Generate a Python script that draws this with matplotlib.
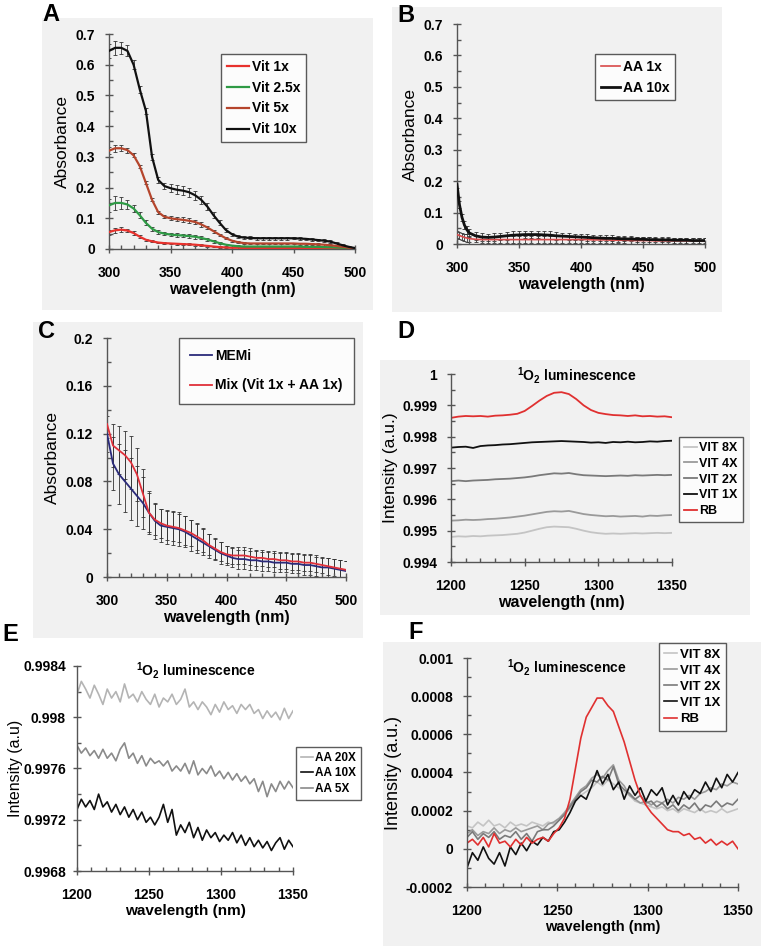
import numpy as np
import matplotlib
matplotlib.use("Agg")
import matplotlib.pyplot as plt
from matplotlib.patches import Rectangle
from matplotlib.ticker import MultipleLocator, FuncFormatter

# ---------------- data ----------------
# panel A: vitamin absorbance, 300..500 nm every 5 nm
wl_a = np.arange(300, 505, 5)
vit10 = [0.645, 0.655, 0.655, 0.645, 0.600, 0.520, 0.450, 0.300, 0.225, 0.205,
         0.198, 0.193, 0.190, 0.185, 0.175, 0.160, 0.138, 0.110, 0.085, 0.062,
         0.048, 0.040, 0.037, 0.036, 0.035, 0.035, 0.035, 0.035, 0.035, 0.035,
         0.035, 0.034, 0.033, 0.031, 0.029, 0.027, 0.024, 0.018, 0.012, 0.007, 0.003]
vit5 = [0.320, 0.328, 0.328, 0.322, 0.305, 0.270, 0.215, 0.160, 0.120, 0.105,
        0.100, 0.097, 0.095, 0.092, 0.088, 0.080, 0.070, 0.058, 0.046, 0.035,
        0.027, 0.022, 0.019, 0.018, 0.018, 0.018, 0.018, 0.018, 0.018, 0.018,
        0.018, 0.017, 0.017, 0.016, 0.015, 0.014, 0.012, 0.010, 0.007, 0.004, 0.002]
vit25 = [0.142, 0.150, 0.150, 0.145, 0.132, 0.110, 0.085, 0.066, 0.055, 0.050,
         0.047, 0.045, 0.044, 0.042, 0.040, 0.036, 0.031, 0.025, 0.019, 0.014,
         0.011, 0.009, 0.008, 0.008, 0.008, 0.008, 0.008, 0.008, 0.008, 0.008,
         0.008, 0.008, 0.007, 0.007, 0.007, 0.006, 0.006, 0.005, 0.004, 0.003, 0.002]
vit1 = [0.055, 0.061, 0.063, 0.060, 0.052, 0.040, 0.030, 0.025, 0.021, 0.019,
        0.018, 0.017, 0.016, 0.015, 0.014, 0.012, 0.010, 0.008, 0.006, 0.005,
        0.004, 0.004, 0.003, 0.003, 0.003, 0.003, 0.003, 0.003, 0.003, 0.003,
        0.003, 0.003, 0.003, 0.003, 0.003, 0.002, 0.002, 0.002, 0.002, 0.002, 0.001]
vit10_err = [0.022, 0.022, 0.020, 0.018, 0.015, 0.012, 0.010, 0.010, 0.010, 0.010,
             0.012, 0.014, 0.015, 0.015, 0.015, 0.014, 0.012, 0.010, 0.008, 0.006] + [0.005] * 10 + [0.004] * 10 + [0.003]
vit5_err = [0.012, 0.012, 0.010, 0.008, 0.006, 0.005, 0.005, 0.005, 0.005, 0.005,
            0.006, 0.007, 0.008, 0.008, 0.008, 0.007, 0.006, 0.005, 0.004, 0.003] + [0.003] * 20 + [0.002]
vit25_err = [0.022, 0.022, 0.020, 0.016, 0.012, 0.010, 0.008, 0.007, 0.006, 0.006,
             0.006, 0.006, 0.006, 0.006, 0.006, 0.005, 0.005, 0.004, 0.004, 0.003] + [0.003] * 20 + [0.002]
vit1_err = [0.008, 0.008, 0.007, 0.006, 0.005, 0.004, 0.004, 0.003, 0.003, 0.003] + [0.003] * 30 + [0.002]

# panel B: amino acids absorbance
wl_b = np.r_[300, 302, 304, 306, 308, np.arange(310, 505, 5)]
aa10 = [0.190, 0.125, 0.085, 0.060, 0.045,
        0.035, 0.026, 0.022, 0.021, 0.022, 0.024, 0.026, 0.028, 0.029, 0.030,
        0.030, 0.030, 0.029, 0.028, 0.026, 0.025, 0.024, 0.023, 0.022, 0.021,
        0.020, 0.019, 0.018, 0.018, 0.017, 0.016, 0.016, 0.015, 0.015, 0.014,
        0.014, 0.013, 0.013, 0.012, 0.012, 0.012, 0.011, 0.011, 0.011]
aa1 = [0.030, 0.027, 0.024, 0.021, 0.019,
       0.017, 0.015, 0.014, 0.014, 0.014, 0.014, 0.014, 0.014, 0.014, 0.014,
       0.014, 0.014, 0.014, 0.014, 0.014, 0.014, 0.014, 0.014, 0.014, 0.014,
       0.013, 0.013, 0.013, 0.012, 0.012, 0.012, 0.011, 0.011, 0.011, 0.011,
       0.010, 0.010, 0.010, 0.010, 0.010, 0.010, 0.010, 0.010, 0.010]
aa10_err = [0.012] * 20 + [0.010] * 10 + [0.008] * 14
aa1_err = [0.012] * 5 + [0.010] * 39

# panel C: MEMi vs mix, 300..500 every 5 nm
wl_c = np.arange(300, 505, 5)
memi = [0.120, 0.095, 0.086, 0.080, 0.074, 0.068, 0.062, 0.054, 0.047, 0.043,
        0.042, 0.041, 0.040, 0.038, 0.035, 0.032, 0.029, 0.026, 0.023, 0.020,
        0.018, 0.016, 0.015, 0.015, 0.014, 0.014, 0.013, 0.013, 0.012, 0.012,
        0.012, 0.011, 0.011, 0.010, 0.010, 0.009, 0.008, 0.008, 0.007, 0.006, 0.005]
mix = [0.128, 0.110, 0.106, 0.102, 0.096, 0.086, 0.070, 0.054, 0.048, 0.045,
       0.043, 0.042, 0.041, 0.039, 0.037, 0.034, 0.031, 0.027, 0.024, 0.021,
       0.019, 0.018, 0.018, 0.018, 0.017, 0.016, 0.016, 0.015, 0.015, 0.014,
       0.014, 0.013, 0.013, 0.012, 0.012, 0.011, 0.010, 0.009, 0.008, 0.007, 0.006]
memi_err = [0.015, 0.022, 0.025, 0.026, 0.026, 0.025, 0.022, 0.018, 0.015, 0.014,
            0.014, 0.014, 0.014, 0.013, 0.013, 0.012, 0.011, 0.010, 0.009, 0.009] + [0.008] * 21
mix_err = [0.012, 0.018, 0.020, 0.020, 0.022, 0.022, 0.020, 0.016, 0.013, 0.012,
           0.012, 0.012, 0.012, 0.012, 0.011, 0.011, 0.010, 0.009, 0.009, 0.008] + [0.007] * 21

# panel D: 1O2 luminescence, vitamins + RB, 1200..1350 every 5 nm
wl_d = np.arange(1200, 1355, 5)
d_rb = [0.99860, 0.99864, 0.99866, 0.99865, 0.99866, 0.99864, 0.99867, 0.99868, 0.99870, 0.99873,
        0.99882, 0.99898, 0.99915, 0.99930, 0.99940, 0.99942, 0.99936, 0.99920, 0.99900, 0.99885,
        0.99876, 0.99872, 0.99869, 0.99868, 0.99866, 0.99868, 0.99865, 0.99866, 0.99864, 0.99865, 0.99862]
d_vit1 = [0.99765, 0.99767, 0.99768, 0.99764, 0.99770, 0.99772, 0.99773, 0.99775, 0.99776, 0.99778,
          0.99780, 0.99782, 0.99783, 0.99784, 0.99785, 0.99786, 0.99785, 0.99784, 0.99783, 0.99781,
          0.99782, 0.99780, 0.99783, 0.99782, 0.99784, 0.99782, 0.99783, 0.99785, 0.99784, 0.99786, 0.99787]
d_vit2 = [0.99658, 0.99660, 0.99658, 0.99660, 0.99661, 0.99662, 0.99664, 0.99665, 0.99666, 0.99668,
          0.99670, 0.99673, 0.99677, 0.99680, 0.99683, 0.99682, 0.99684, 0.99680, 0.99677, 0.99676,
          0.99675, 0.99674, 0.99675, 0.99676, 0.99675, 0.99677, 0.99676, 0.99677, 0.99678, 0.99677, 0.99678]
d_vit4 = [0.99532, 0.99533, 0.99535, 0.99534, 0.99535, 0.99537, 0.99538, 0.99540, 0.99542, 0.99545,
          0.99548, 0.99552, 0.99556, 0.99560, 0.99562, 0.99561, 0.99563, 0.99558, 0.99553, 0.99550,
          0.99548, 0.99546, 0.99547, 0.99545, 0.99546, 0.99547, 0.99545, 0.99548, 0.99547, 0.99549, 0.99550]
d_vit8 = [0.99480, 0.99482, 0.99481, 0.99483, 0.99482, 0.99484, 0.99485, 0.99486, 0.99488, 0.99490,
          0.99494, 0.99500, 0.99506, 0.99511, 0.99513, 0.99512, 0.99511, 0.99506, 0.99500, 0.99495,
          0.99492, 0.99490, 0.99491, 0.99490, 0.99491, 0.99492, 0.99491, 0.99492, 0.99493, 0.99492, 0.99493]

# panel E: 1O2 luminescence, amino acids, 1200..1350 every 3 nm
wl_e = np.arange(1200, 1353, 3)
e_aa20 = [0.99818, 0.99828, 0.99822, 0.99815, 0.99825, 0.99818, 0.99810, 0.99822, 0.99815, 0.99820,
          0.99812, 0.99826, 0.99815, 0.99818, 0.99812, 0.99820, 0.99814, 0.99810, 0.99818, 0.99808,
          0.99815, 0.99812, 0.99818, 0.99810, 0.99814, 0.99822, 0.99808, 0.99812, 0.99806, 0.99812,
          0.99808, 0.99802, 0.99810, 0.99804, 0.99812, 0.99806, 0.99809, 0.99803, 0.99810, 0.99806,
          0.99810, 0.99803, 0.99806, 0.99799, 0.99805, 0.99800, 0.99804, 0.99798, 0.99807, 0.99799, 0.99805]
e_aa5 = [0.99778, 0.99772, 0.99776, 0.99770, 0.99774, 0.99768, 0.99775, 0.99768, 0.99772, 0.99766,
         0.99775, 0.99780, 0.99768, 0.99772, 0.99764, 0.99770, 0.99762, 0.99768, 0.99764, 0.99766,
         0.99762, 0.99766, 0.99758, 0.99762, 0.99758, 0.99764, 0.99756, 0.99766, 0.99755, 0.99760,
         0.99756, 0.99762, 0.99754, 0.99758, 0.99752, 0.99757, 0.99751, 0.99756, 0.99750, 0.99754,
         0.99748, 0.99752, 0.99742, 0.99750, 0.99738, 0.99748, 0.99742, 0.99750, 0.99744, 0.99750, 0.99745]
e_aa10 = [0.99728, 0.99736, 0.99730, 0.99735, 0.99728, 0.99740, 0.99730, 0.99734, 0.99726, 0.99732,
          0.99724, 0.99730, 0.99722, 0.99728, 0.99720, 0.99726, 0.99718, 0.99722, 0.99716, 0.99722,
          0.99732, 0.99718, 0.99728, 0.99708, 0.99716, 0.99710, 0.99718, 0.99706, 0.99714, 0.99704,
          0.99712, 0.99706, 0.99710, 0.99703, 0.99708, 0.99704, 0.99710, 0.99702, 0.99708, 0.99700,
          0.99706, 0.99699, 0.99704, 0.99698, 0.99703, 0.99696, 0.99702, 0.99706, 0.99697, 0.99704, 0.99699]

# panel F: baseline-subtracted luminescence, in units of 1e-4 a.u., every 3 nm
wl_f = np.arange(1200, 1353, 3)
f_rb = [0.3, 0.5, 0.2, 0.6, 0.1, 0.8, 0.3, 0.4, 0.1, 0.5, 0.2, 0.6, 0.3, 0.5, 0.6, 0.4, 0.8,
        1.1, 1.6, 2.6, 4.2, 5.8, 6.9, 7.4, 7.9, 7.9, 7.5, 7.2, 6.4, 5.6, 4.6, 3.6, 2.8, 2.3,
        1.9, 1.6, 1.3, 1.0, 0.9, 0.9, 0.7, 0.8, 0.5, 0.6, 0.3, 0.5, 0.2, 0.4, 0.2, 0.4, 0.0]
f_vit1 = [-1.0, -0.2, -0.6, 0.1, -0.5, -0.8, -0.2, -0.9, 0.1, -0.3, 0.3, -0.1, 0.4, 0.2, 0.6, 0.4, 0.9,
          1.0, 1.4, 1.9, 2.5, 2.8, 2.6, 3.3, 4.1, 3.4, 3.9, 3.1, 3.5, 2.6, 3.3, 2.8, 3.2, 2.5,
          3.1, 2.8, 3.2, 2.3, 2.8, 2.3, 3.0, 2.6, 3.1, 2.9, 3.5, 3.0, 3.7, 3.2, 3.9, 3.5, 4.0]
f_vit2 = [0.6, 0.9, 0.5, 0.8, 0.6, 0.9, 0.5, 0.7, 0.6, 0.9, 0.5, 0.8, 0.4, 0.9, 1.0, 1.0, 1.2,
          1.5, 1.8, 2.2, 2.6, 3.0, 3.2, 3.6, 3.5, 3.8, 3.6, 4.3, 3.4, 3.1, 2.9, 2.6, 2.8, 2.4,
          2.5, 2.2, 2.4, 2.1, 2.3, 2.0, 2.3, 2.1, 2.4, 2.0, 2.3, 2.2, 2.5, 2.2, 2.4, 2.3, 2.6]
f_vit4 = [0.8, 1.0, 0.7, 0.9, 0.8, 1.1, 0.8, 1.0, 0.9, 1.1, 0.9, 1.0, 1.1, 1.2, 1.0, 1.3, 1.4,
          1.6, 1.9, 2.3, 2.7, 3.1, 3.3, 3.7, 3.9, 3.7, 4.1, 4.4, 3.6, 3.3, 2.8, 2.6, 2.4, 2.5,
          2.3, 2.5, 2.4, 2.6, 2.4, 2.7, 2.6, 2.8, 2.6, 2.9, 3.0, 3.2, 3.1, 3.4, 3.3, 3.5, 3.4]
f_vit8 = [1.2, 1.1, 1.4, 1.2, 1.5, 1.2, 1.3, 1.1, 1.4, 1.2, 1.3, 1.2, 1.4, 1.3, 1.2, 1.4, 1.3,
          1.5, 1.8, 2.1, 2.5, 2.8, 3.0, 3.2, 3.5, 3.3, 3.6, 3.4, 3.2, 3.0, 2.8, 2.5, 2.4, 2.3,
          2.2, 2.1, 2.2, 2.0, 2.1, 1.9, 2.1, 2.0, 1.9, 2.1, 1.9, 2.0, 1.9, 2.1, 1.9, 2.0, 2.1]
F_UNIT = 1e-4

# ---------------- layout ----------------
W, H = 761, 946
BG = "#f1f1f1"
SPINE = "#555555"

plt.rcParams["font.family"] = ["Liberation Sans", "DejaVu Sans"]
plt.rcParams["mathtext.fontset"] = "custom"
plt.rcParams["mathtext.rm"] = "Liberation Sans"
plt.rcParams["mathtext.bf"] = "Liberation Sans:bold"


def rect(l, t, r, b):
    return [l / W, 1 - b / H, (r - l) / W, (b - t) / H]


def add_bg(fig, l, t, r, b):
    fig.patches.append(Rectangle((l / W, 1 - b / H), (r - l) / W, (b - t) / H,
                                 transform=fig.transFigure, facecolor=BG,
                                 edgecolor="none", zorder=-10))


fmt = FuncFormatter(lambda v, p: "%g" % round(v, 8))


def style(ax, xlim, ylim, ymaj, ymin, xlab_size=11.5):
    ax.set_facecolor("none")
    ax.set_xlim(*xlim)
    ax.set_ylim(*ylim)
    for s in ["top", "right"]:
        ax.spines[s].set_visible(False)
    for s in ["left", "bottom"]:
        ax.spines[s].set_color(SPINE)
        ax.spines[s].set_linewidth(1.0)
    ax.xaxis.set_major_locator(MultipleLocator(50))
    ax.xaxis.set_minor_locator(MultipleLocator(10))
    ax.yaxis.set_major_locator(MultipleLocator(ymaj))
    ax.yaxis.set_minor_locator(MultipleLocator(ymin))
    ax.yaxis.set_major_formatter(fmt)
    ax.tick_params(which="major", direction="inout", length=6, width=1, color=SPINE,
                   labelsize=10)
    ax.tick_params(axis="x", which="major", pad=9)
    ax.tick_params(axis="y", which="major", pad=7)
    ax.tick_params(which="minor", direction="in", length=3, width=1, color=SPINE)
    for lab in ax.get_xticklabels() + ax.get_yticklabels():
        lab.set_fontweight("bold")
    ax.set_xlabel("wavelength (nm)", fontsize=xlab_size, fontweight="bold", labelpad=2)


def legend(ax, fig, l, t, size, **kw):
    leg = ax.legend(loc="upper left", bbox_to_anchor=(l / W, 1 - t / H),
                    bbox_transform=fig.transFigure, borderaxespad=0, fancybox=False,
                    prop={"size": size, "weight": "bold"}, handletextpad=0.2, **kw)
    leg.get_frame().set_edgecolor("#333333")
    leg.get_frame().set_linewidth(1.0)
    return leg


def title(ax, x, y):
    ax.text(x, y, r"$\mathbf{^{1}O_{2}}$ luminescence", transform=ax.transAxes,
            ha="center", va="center", fontsize=10, fontweight="bold")


fig = plt.figure(figsize=(W / 100, H / 100), dpi=100)
add_bg(fig, 42, 18, 373, 310)
add_bg(fig, 392, 7, 722, 312)
add_bg(fig, 33, 322, 363, 638)
add_bg(fig, 380, 360, 750, 615)
add_bg(fig, 383, 642, 761, 946)

# ---- A ----
axA = fig.add_axes(rect(109, 34, 355, 249))
eb = dict(fmt="none", ecolor="#333333", elinewidth=0.6, capsize=1.5, capthick=0.6, zorder=1)
for y, e in [(vit10, vit10_err), (vit5, vit5_err), (vit25, vit25_err), (vit1, vit1_err)]:
    axA.errorbar(wl_a, y, yerr=e, **eb)
axA.plot(wl_a, vit1, color="#e8322d", lw=1.6, label="Vit 1x", zorder=3)
axA.plot(wl_a, vit25, color="#2e9a45", lw=1.6, label="Vit 2.5x", zorder=3)
axA.plot(wl_a, vit5, color="#b5452c", lw=1.6, label="Vit 5x", zorder=3)
axA.plot(wl_a, vit10, color="#111111", lw=1.6, label="Vit 10x", zorder=3)
style(axA, (300, 500), (0, 0.7), 0.1, 0.05)
axA.set_ylabel("Absorbance", fontsize=12.5, labelpad=4)
legend(axA, fig, 221, 54, 10, handlelength=1.6)

# ---- B ----
axB = fig.add_axes(rect(457, 24, 705, 244))
axB.errorbar(wl_b, aa10, yerr=aa10_err, **eb)
axB.errorbar(wl_b, aa1, yerr=aa1_err, **eb)
axB.plot(wl_b, aa1, color="#d84a4a", lw=1.2, label="AA 1x", zorder=3)
axB.plot(wl_b, aa10, color="#111111", lw=2.0, label="AA 10x", zorder=3)
style(axB, (300, 500), (0, 0.7), 0.1, 0.05)
axB.set_ylabel("Absorbance", fontsize=12.5, labelpad=4)
legend(axB, fig, 595, 54, 10, handlelength=1.4)

# ---- C ----
axC = fig.add_axes(rect(107, 338, 346, 577))
axC.errorbar(wl_c, memi, yerr=memi_err, **eb)
axC.errorbar(wl_c, mix, yerr=mix_err, **eb)
axC.plot(wl_c, memi, color="#2a2a7a", lw=1.3, label="MEMi", zorder=3)
axC.plot(wl_c, mix, color="#e0303a", lw=1.3, label="Mix (Vit 1x + AA 1x)", zorder=3)
style(axC, (300, 500), (0, 0.2), 0.04, 0.02)
axC.set_ylabel("Absorbance", fontsize=12.5, labelpad=4)
legend(axC, fig, 179, 338, 10, handlelength=1.6, labelspacing=1.1, borderpad=0.8)

# ---- D ----
axD = fig.add_axes(rect(451, 374, 672, 562))
axD.plot(wl_d, d_vit8, color="#c4c4c4", lw=1.3, label="VIT 8X")
axD.plot(wl_d, d_vit4, color="#9a9a9a", lw=1.3, label="VIT 4X")
axD.plot(wl_d, d_vit2, color="#7a7a7a", lw=1.3, label="VIT 2X")
axD.plot(wl_d, d_vit1, color="#111111", lw=1.3, label="VIT 1X")
axD.plot(wl_d, d_rb, color="#e03030", lw=1.3, label="RB")
style(axD, (1200, 1350), (0.994, 1.0), 0.001, 0.0005)
axD.set_ylabel("Intensity (a.u.)", fontsize=12.5, labelpad=3)
title(axD, 0.57, 0.99)
legend(axD, fig, 679, 437, 9, handlelength=1.0, labelspacing=0.3)

# ---- E ----
axE = fig.add_axes(rect(77, 666, 293, 871))
axE.plot(wl_e, e_aa20, color="#b4b4b4", lw=1.2, label="AA 20X")
axE.plot(wl_e, e_aa10, color="#111111", lw=1.2, label="AA 10X")
axE.plot(wl_e, e_aa5, color="#8a8a8a", lw=1.2, label="AA 5X")
style(axE, (1200, 1350), (0.9968, 0.9984), 0.0004, 0.0002, xlab_size=11)
axE.tick_params(axis="y", which="major", pad=5)
axE.set_ylabel("Intensity (a.u)", fontsize=11.5, labelpad=0)
title(axE, 0.55, 0.98)
legend(axE, fig, 296, 747, 8.5, handlelength=1.0, labelspacing=0.3)

# ---- F ----
axF = fig.add_axes(rect(467, 658, 738, 887))
f_unit = F_UNIT
axF.plot(wl_f, np.array(f_vit8) * f_unit, color="#c4c4c4", lw=1.2, label="VIT 8X")
axF.plot(wl_f, np.array(f_vit4) * f_unit, color="#9a9a9a", lw=1.2, label="VIT 4X")
axF.plot(wl_f, np.array(f_vit2) * f_unit, color="#7a7a7a", lw=1.2, label="VIT 2X")
axF.plot(wl_f, np.array(f_vit1) * f_unit, color="#111111", lw=1.2, label="VIT 1X")
axF.plot(wl_f, np.array(f_rb) * f_unit, color="#e03030", lw=1.2, label="RB")
style(axF, (1200, 1350), (-0.0002, 0.001), 0.0002, 0.0001, xlab_size=10.5)
axF.set_ylabel("Intensity (a.u.)", fontsize=13, labelpad=3)
title(axF, 0.37, 0.96)
legend(axF, fig, 659, 643, 9.5, handlelength=1.0, labelspacing=0.3)

# panel letters
for txt, x, y in [("A", 42, 3), ("B", 397, 4), ("C", 38, 320), ("D", 397, 320),
                  ("E", 2, 623), ("F", 408, 621)]:
    fig.text(x / W, 1 - y / H, txt, fontsize=17, fontweight="bold", ha="left", va="top")

fig.savefig("out.png", dpi=100)
